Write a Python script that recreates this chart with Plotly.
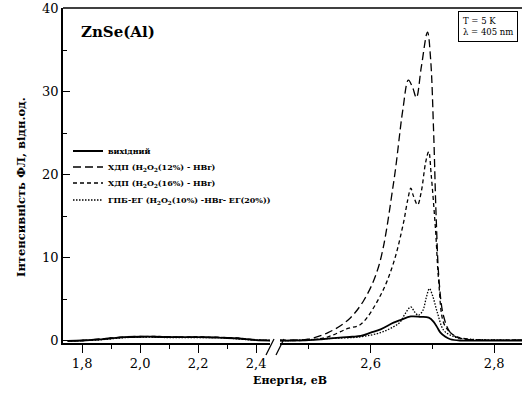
import plotly.graph_objects as go

# ---- data ----
E_left = [1.75, 1.80, 1.85, 1.90, 1.95, 2.00, 2.05, 2.10, 2.15, 2.20, 2.25, 2.30, 2.35, 2.40, 2.45]
base_left = [0.0, 0.05, 0.15, 0.30, 0.45, 0.50, 0.50, 0.45, 0.45, 0.45, 0.40, 0.35, 0.25, 0.10, 0.05]
d12_left = [0.0, 0.05, 0.20, 0.35, 0.50, 0.55, 0.50, 0.50, 0.45, 0.45, 0.45, 0.40, 0.30, 0.15, 0.05]
d16_left = [0.0, 0.05, 0.15, 0.35, 0.45, 0.50, 0.55, 0.50, 0.45, 0.50, 0.45, 0.40, 0.30, 0.10, 0.05]
gpb_left = [0.0, 0.05, 0.10, 0.25, 0.40, 0.45, 0.45, 0.40, 0.40, 0.40, 0.40, 0.35, 0.20, 0.10, 0.05]

E_base = [2.45, 2.47, 2.50, 2.52, 2.55, 2.57, 2.584, 2.60, 2.616, 2.637, 2.648, 2.665, 2.681, 2.694, 2.702, 2.708, 2.713, 2.721, 2.729, 2.745, 2.80, 2.85]
I_base = [0.05, 0.05, 0.10, 0.20, 0.40, 0.50, 0.60, 1.00, 1.40, 2.20, 2.50, 2.95, 2.90, 2.80, 2.30, 1.60, 1.00, 0.50, 0.20, 0.05, 0.05, 0.05]

E_d12 = [2.45, 2.471, 2.498, 2.531, 2.563, 2.589, 2.613, 2.637, 2.652, 2.661, 2.668, 2.674, 2.682, 2.692, 2.697, 2.702, 2.706, 2.711, 2.718, 2.729, 2.745, 2.777, 2.85]
I_d12 = [0.1, 0.1, 0.2, 1.0, 2.5, 4.9, 9.0, 19.0, 27.8, 31.4, 30.5, 29.3, 33.0, 37.2, 34.0, 25.0, 15.0, 7.0, 3.0, 1.0, 0.3, 0.1, 0.1]

E_d16 = [2.45, 2.471, 2.498, 2.531, 2.563, 2.584, 2.616, 2.637, 2.653, 2.660, 2.665, 2.669, 2.676, 2.682, 2.689, 2.694, 2.698, 2.705, 2.710, 2.718, 2.729, 2.740, 2.761, 2.85]
I_d16 = [0.05, 0.05, 0.1, 0.5, 1.5, 2.0, 5.5, 9.4, 14.2, 17.0, 18.4, 17.5, 16.4, 18.0, 21.5, 22.8, 20.0, 13.4, 7.3, 2.2, 1.0, 0.5, 0.2, 0.1]

E_gpb = [2.45, 2.471, 2.535, 2.584, 2.616, 2.637, 2.648, 2.656, 2.665, 2.671, 2.677, 2.684, 2.690, 2.695, 2.700, 2.708, 2.718, 2.729, 2.740, 2.761, 2.85]
I_gpb = [0.05, 0.05, 0.3, 0.5, 1.0, 1.7, 2.3, 3.3, 4.1, 3.5, 3.1, 3.6, 5.2, 6.3, 5.5, 3.4, 1.3, 0.7, 0.4, 0.2, 0.1]

names = ["<b>вихідний</b>",
         "<b>ХДП (H<sub>2</sub>O<sub>2</sub>(12%) - HBr)</b>",
         "<b>ХДП (H<sub>2</sub>O<sub>2</sub>(16%) - HBr)</b>",
         "<b>ГПБ-ЕГ (H<sub>2</sub>O<sub>2</sub>(10%) -HBr- ЕГ(20%))</b>"]
dashes = ["solid", "8px,4px", "4px,3px", "1.5px,1.5px"]
widths = [1.8, 1.3, 1.3, 1.3]

series = [(E_base, I_base, base_left), (E_d12, I_d12, d12_left),
          (E_d16, I_d16, d16_left), (E_gpb, I_gpb, gpb_left)]

W, H = 522, 398
ml, mr, mt, mb = 63, 0, 8, 55
pw = W - ml - mr
ph = H - mt - mb

FONT = "DejaVu Serif"
legend_ids = ["legend", "legend2", "legend3", "legend4"]
legend_centers_px = [151, 167, 183, 200]

fig = go.Figure()
for k, (ex, iy, left) in enumerate(series):
    fig.add_trace(go.Scatter(x=E_left, y=left, mode="lines", xaxis="x", yaxis="y",
                             line=dict(color="black", width=widths[k], dash=dashes[k]),
                             showlegend=False, line_shape="spline"))
    fig.add_trace(go.Scatter(x=ex, y=iy, mode="lines", xaxis="x2", yaxis="y",
                             name=names[k], legend=legend_ids[k],
                             line=dict(color="black", width=widths[k], dash=dashes[k]),
                             line_shape="spline"))

dom1 = [0, (270 - ml) / pw]
dom2 = [(280 - ml) / pw, 1]

tickfont = dict(family=FONT, size=13, color="black")
common_x = dict(showline=True, linecolor="black", linewidth=1.5, ticks="outside",
                ticklen=8, tickwidth=1.3, tickcolor="black", showgrid=False,
                zeroline=False, tickfont=tickfont, tickformat=".1f",
                tickprefix="<b>", ticksuffix="</b>",
                minor=dict(ticks="outside", ticklen=4, tickwidth=1.2, tickcolor="black", dtick=0.1))

legends = {}
for lid, cy in zip(legend_ids, legend_centers_px):
    legends[lid] = dict(x=(68 - ml) / pw, y=1 - (cy - mt) / ph, xanchor="left", yanchor="middle",
                        bgcolor="rgba(0,0,0,0)", font=dict(family=FONT, size=8, color="black"),
                        itemwidth=30, borderwidth=0)

fig.update_layout(
    width=W, height=H, margin=dict(l=ml, r=mr, t=mt, b=mb),
    paper_bgcolor="white", plot_bgcolor="white", separators=", ",
    font=dict(family=FONT, color="black"),
    xaxis=dict(domain=dom1, range=[1.734, 2.448], tickvals=[1.8, 2.0, 2.2, 2.4], anchor="y", **common_x),
    xaxis2=dict(domain=dom2, range=[2.4532, 2.845], tickvals=[2.6, 2.8], anchor="y", **common_x),
    yaxis=dict(range=[-0.25, 40.1], showline=True, linecolor="black", linewidth=1.5,
               ticks="inside", ticklen=7, tickwidth=1.3, tickcolor="black",
               tickvals=[0, 10, 20, 30, 40], showgrid=False, zeroline=False,
               tickfont=tickfont, tickprefix="<b>", ticksuffix="</b>",
               minor=dict(ticks="inside", ticklen=4, tickwidth=1.2, tickcolor="black", dtick=5)),
    showlegend=True,
    **legends,
)

# top frame line and axis-break marks
fig.add_shape(type="line", xref="paper", yref="paper", x0=0, x1=1, y0=1, y1=1,
              line=dict(color="black", width=1.5))
for x0p in (266, 276):
    fig.add_shape(type="line", xref="paper", yref="paper",
                  x0=(x0p - ml) / pw, x1=(x0p + 8 - ml) / pw,
                  y0=-(355 - (H - mb)) / ph, y1=-(339 - (H - mb)) / ph,
                  line=dict(color="black", width=1.2))

fig.add_annotation(text="<b>Інтенсивність ФЛ, відн.од.</b>", xref="paper", yref="paper",
                   x=0, xshift=-(ml - 21), y=1 - (187 - mt) / ph, textangle=-90,
                   showarrow=False, xanchor="center", yanchor="middle",
                   font=dict(family=FONT, size=11.5, color="black"))
fig.add_annotation(text="<b>Енергія, еВ</b>", xref="paper", yref="paper", x=(290 - ml) / pw, y=0,
                   yshift=-37, showarrow=False, yanchor="middle",
                   font=dict(family=FONT, size=11, color="black"))
fig.add_annotation(text="<b>ZnSe(Al)</b>", xref="paper", yref="paper", x=(79 - ml) / pw, y=1,
                   yshift=-24, xanchor="left", yanchor="middle", showarrow=False,
                   font=dict(family=FONT, size=15, color="black"))
fig.add_annotation(text="T = 5 K<br>λ = 405 nm", xref="paper", yref="paper",
                   x=(518 - ml) / pw, y=1, yshift=-3, xanchor="right", yanchor="top",
                   align="left", showarrow=False, bordercolor="black", borderwidth=1,
                   borderpad=4, bgcolor="white",
                   font=dict(family=FONT, size=8.5, color="black"))

fig.write_html("out.html")
